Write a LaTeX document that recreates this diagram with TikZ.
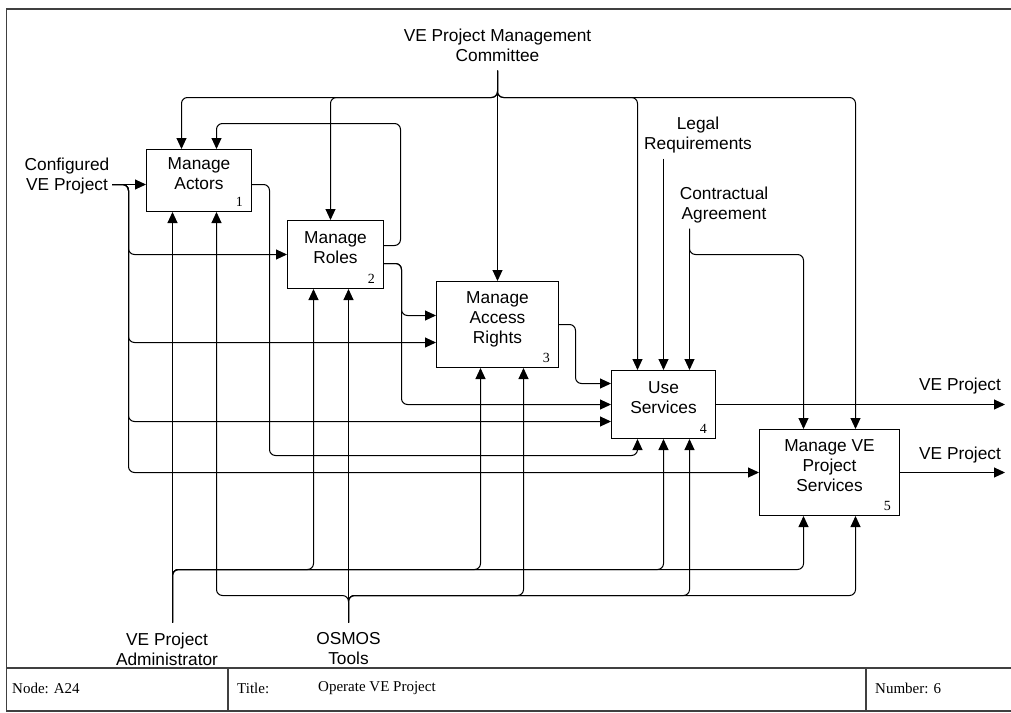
\documentclass[tikz,border=0pt]{standalone}
\usepackage{fontspec}
\setmainfont{Liberation Serif}
\setsansfont{Liberation Sans}
\usetikzlibrary{arrows.meta,positioning}

\begin{document}
\begin{tikzpicture}[x=1pt, y=-1pt, font=\sffamily\fontsize{17.3}{20}\selectfont]
    % Define styles
    \tikzstyle{activity}=[rectangle,draw=black,line width=1pt,inner sep=0pt,align=center,text depth=14pt]
    \tikzstyle{caption}=[align=center,inner sep=5pt,text depth=4pt]
    \tikzstyle{boxno}=[font=\rmfamily\fontsize{14}{14}\selectfont,anchor=south east,inner sep=0pt,xshift=-9pt,yshift=5pt]
    \tikzstyle{line}=[draw, line width=1pt, rounded corners=6pt, -{Triangle[length=11pt,width=10pt,sharp]}]
    \tikzstyle{frame}=[draw=black!75, line width=1.5pt]
    \tikzstyle{cell}=[font=\rmfamily\fontsize{15}{15}\selectfont, anchor=west, inner sep=0pt]

    \useasboundingbox (0,0) rectangle (1011,712);

    % Frame and title block
    \draw [frame] (6.5,9) rectangle (1016,711);
    \draw [frame] (6.5,668) -- (1016,668);
    \draw [frame] (228,668) -- (228,711);
    \draw [frame] (866,668) -- (866,711);
    \node [cell] (nodeid) at (12,688) {Node: A24};
    \node [cell] (titlekey) at (237,688) {Title:};
    \node [cell] (title) at (318,688) {Operate VE Project};
    \node [cell] (number) at (875,688) {Number: 6};

    % Activities
    \node [activity, minimum width=105pt, minimum height=62pt, label={[boxno]south east:1}] (actors) at (199,180.5) {Manage\\Actors};
    \node [activity, minimum width=96pt, minimum height=68pt, label={[boxno]south east:2}, below right=8pt and 35pt of actors] (roles) {Manage\\Roles};
    \node [activity, minimum width=122pt, minimum height=86pt, label={[boxno]south east:3}] (access) at (497.5,324.5) {Manage\\Access\\Rights};
    \node [activity, minimum width=104pt, minimum height=68pt, label={[boxno]south east:4}, below right=2pt and 52pt of access] (use) {Use\\Services};
    \node [activity, minimum width=140pt, minimum height=86pt, label={[boxno]south east:5}] (vemanage) at (829.5,472.5) {Manage VE\\Project\\Services};

    % Inputs
    \node [caption] (configured) at (67,176) {Configured\\VE Project};
    \coordinate (cfgout) at (112,184.5);
    \coordinate (cfgbend) at (128.5,184.5);
    \path [line] (cfgout) -- (cfgout -| actors.west);
    \path [line] (cfgout) -- (cfgbend) |- (roles.west);
    \path [line] (cfgout) -- (cfgbend) |- (access.west |- 0,342.5);
    \path [line] (cfgout) -- (cfgbend) |- (use.west |- 0,421.5);
    \path [line] (cfgout) -- (cfgbend) |- (vemanage.west);

    % Outputs between activities
    \path [line] (actors.east |- 0,184.5) -| (269.5,455.5) -| ([xshift=-26pt]use.south);
    \path [line] (roles.east |- 0,245.5) -| (400.5,123.5) -| ([xshift=17.5pt]actors.north);
    \path [line] (roles.east |- 0,263.5) -- (401.5,263.5) |- (access.west |- 0,315.5);
    \path [line] (roles.east |- 0,263.5) -- (401.5,263.5) |- (use.west);
    \path [line] (access.east) -- (575.5,324.5) |- (use.west |- 0,383.5);

    % Final outputs
    \node [caption, anchor=south] (product) at (960,399.5) {VE Project};
    \node [caption, anchor=south] (services) at (960,469) {VE Project};
    \coordinate (useout) at (1005,404.5);
    \coordinate (vmout) at (1005,472.5);
    \path [line] (use.east) -- (useout);
    \path [line] (vemanage.east) -- (vmout);

    % Controls
    \node [caption, anchor=south] (committee) at (497.5,70.5) {VE Project Management\\Committee};
    \path [line] (committee.south) -- (access.north);
    \path [line] (committee.south) -- ++(0,27) -| ([xshift=-17.5pt]actors.north);
    \path [line] (committee.south) -- ++(0,27) -| ([xshift=-5pt]roles.north);
    \path [line] (committee.south) -- ++(0,27) -| ([xshift=-26pt]use.north);
    \path [line] (committee.south) -- ++(0,27) -| ([xshift=26pt]vemanage.north);

    \node [caption, anchor=south] (legal) at (698,158.5) {Legal\\Requirements};
    \path [line] (legal.south -| use.north) -- (use.north);

    \node [caption, anchor=south] (contract) at (724,228.5) {Contractual\\Agreement};
    \coordinate (ctrdrop) at (689.5,228.5);
    \path [line] (ctrdrop) -- ([xshift=26pt]use.north);
    \path [line] (ctrdrop) -- ++(0,26) -| ([xshift=-26pt]vemanage.north);

    % Mechanisms
    \node [caption, anchor=north, inner ysep=10pt] (admin) at (167,622.5) {VE Project\\Administrator};
    \coordinate (admup) at (172.5,622.5);
    \path [line] (admup) -- ([xshift=-26.5pt]actors.south);
    \path [line] (admup) -- ++(0,-53) -| ([xshift=-22pt]roles.south);
    \path [line] (admup) -- ++(0,-53) -| ([xshift=-17pt]access.south);
    \path [line] (admup) -- ++(0,-53) -| (use.south);
    \path [line] (admup) -- ++(0,-53) -| ([xshift=-26pt]vemanage.south);

    \node [caption, anchor=north, inner ysep=10pt] (osmos) at (348.5,622.5) {OSMOS\\Tools};
    \path [line] (osmos.north) -- ([xshift=13pt]roles.south);
    \path [line] (osmos.north) -- ++(0,-27) -| ([xshift=17.5pt]actors.south);
    \path [line] (osmos.north) -- ++(0,-27) -| ([xshift=26pt]access.south);
    \path [line] (osmos.north) -- ++(0,-27) -| ([xshift=26pt]use.south);
    \path [line] (osmos.north) -- ++(0,-27) -| ([xshift=26pt]vemanage.south);
\end{tikzpicture}
\end{document}
